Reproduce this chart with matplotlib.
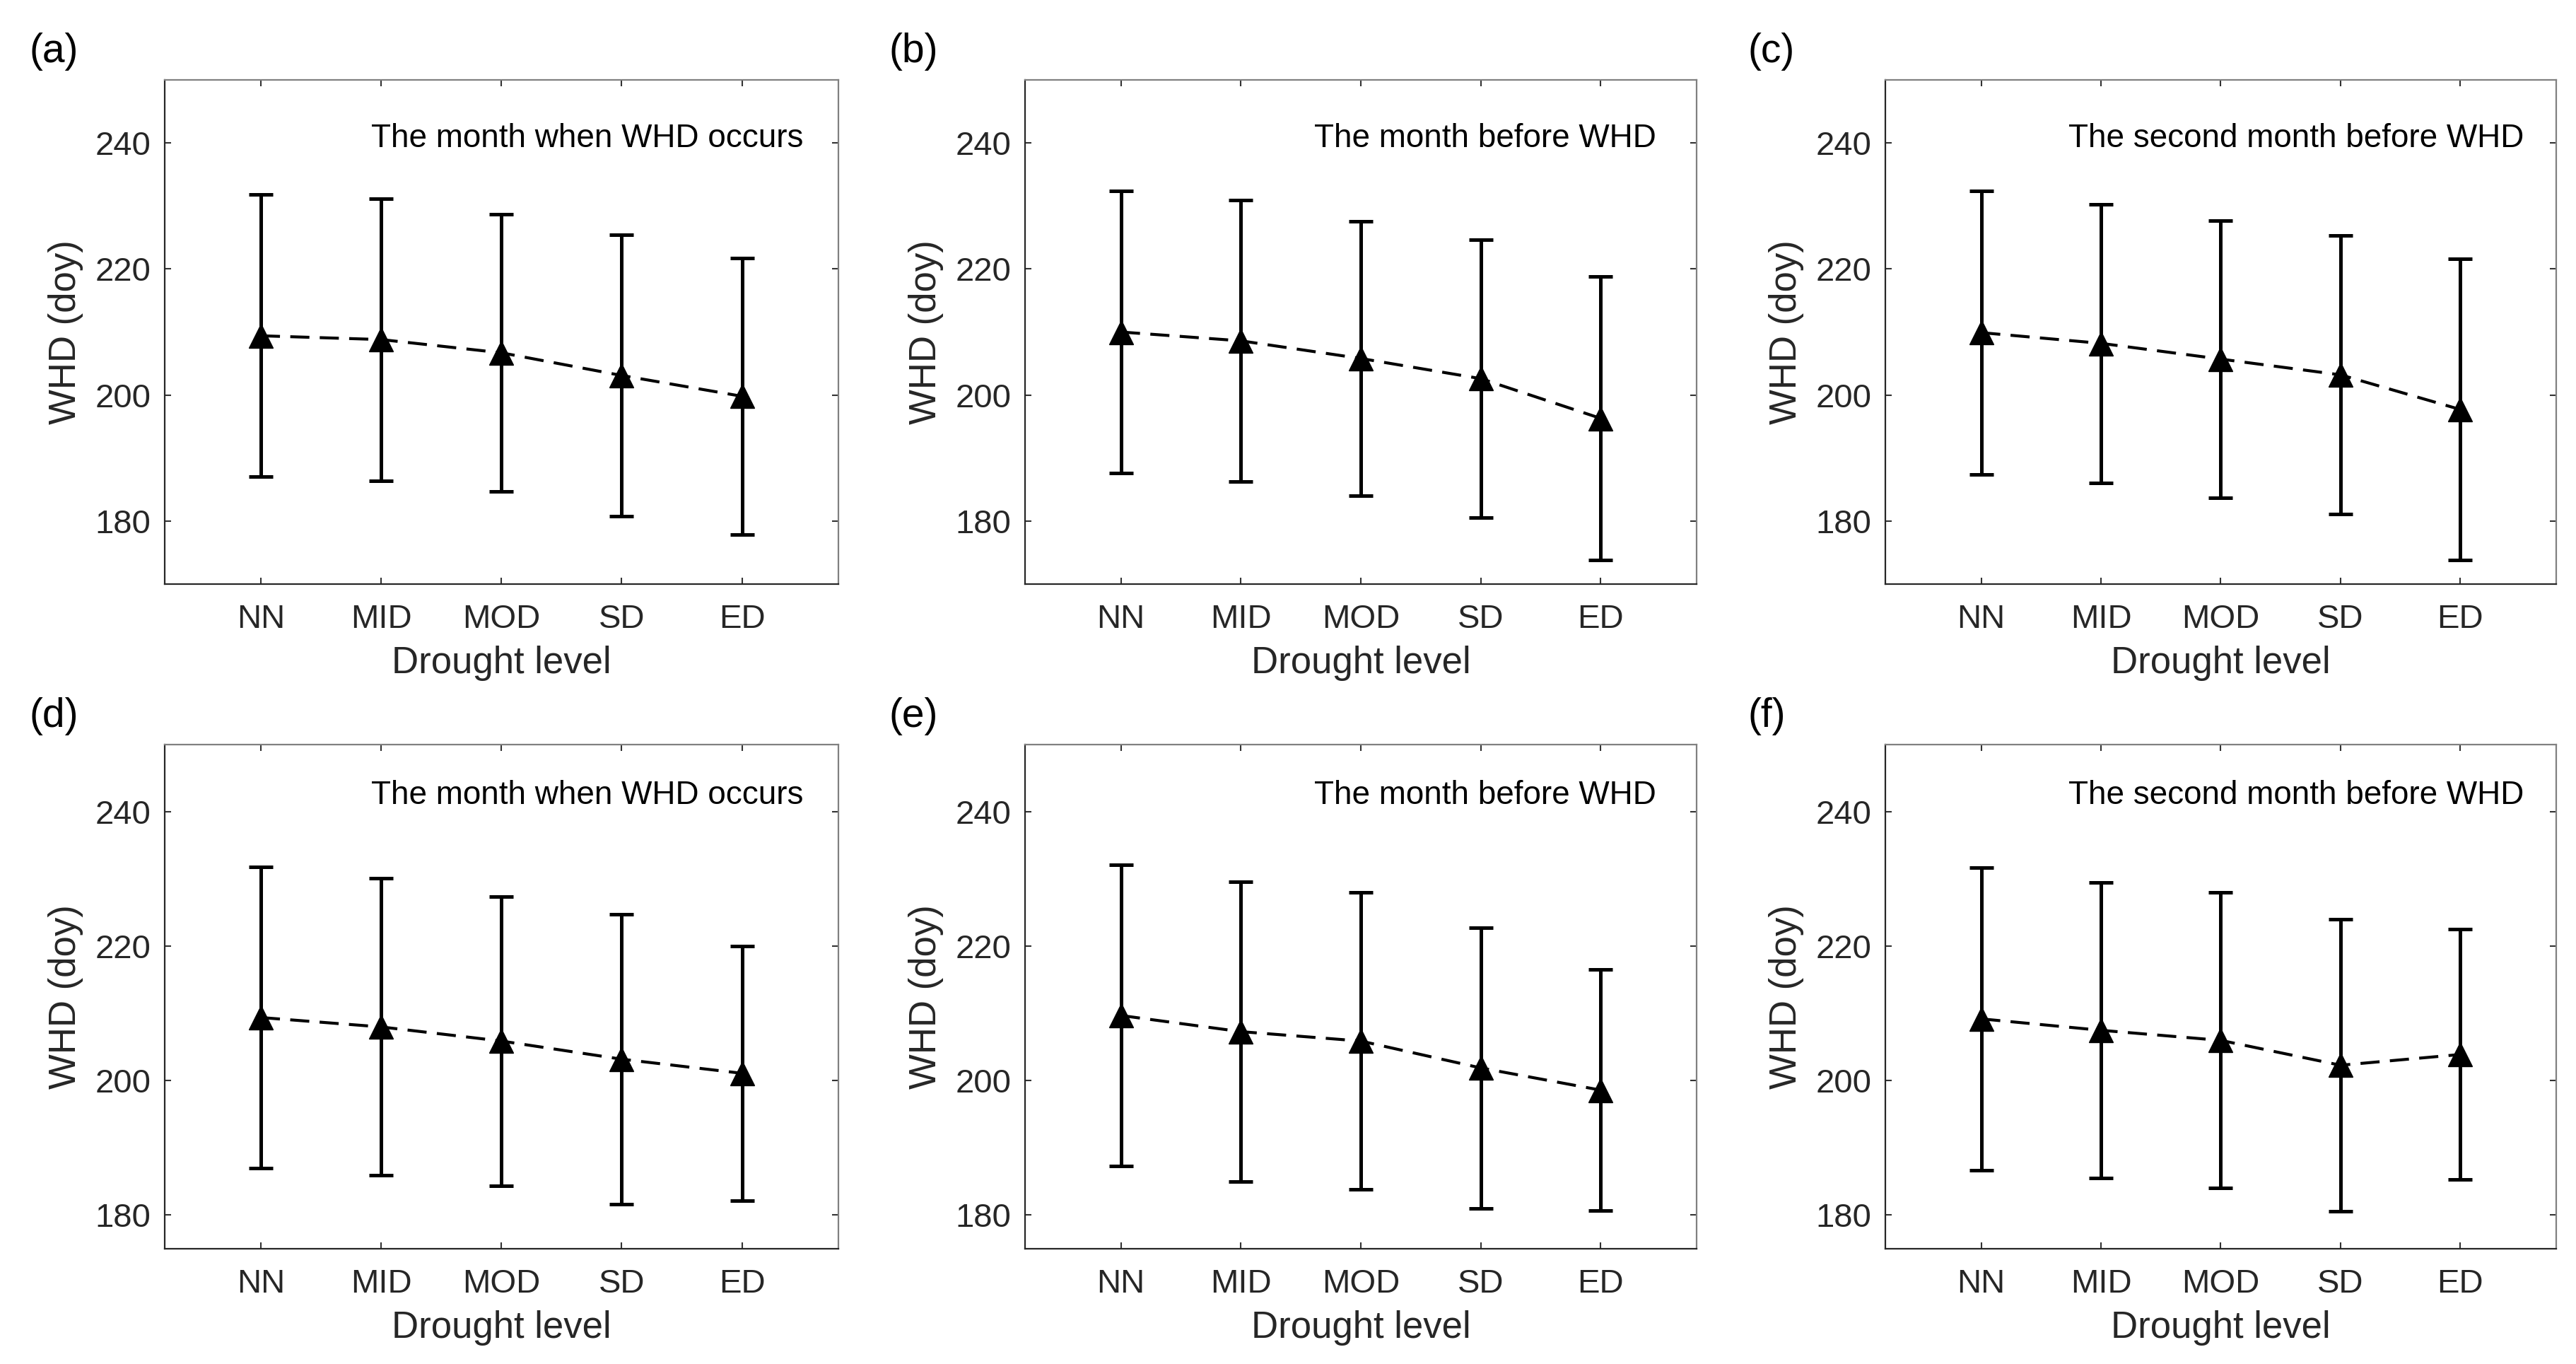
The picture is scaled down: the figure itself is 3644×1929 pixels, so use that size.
import matplotlib
matplotlib.use("Agg")
import matplotlib.pyplot as plt
import numpy as np

plt.rcParams['font.family'] = ['Liberation Sans', 'DejaVu Sans']

categories = ["NN", "MID", "MOD", "SD", "ED"]
panel_labels = ["(a)", "(b)", "(c)", "(d)", "(e)", "(f)"]
panel_titles = ["The month when WHD occurs", "The month before WHD", "The second month before WHD",
                "The month when WHD occurs", "The month before WHD", "The second month before WHD"]

mean_a = [209.4, 208.8, 206.7, 203.1, 199.8]
std_a = [22.4, 22.4, 22.0, 22.3, 21.9]
mean_b = [210.0, 208.6, 205.8, 202.6, 196.3]
std_b = [22.4, 22.3, 21.8, 22.0, 22.5]
mean_c = [209.9, 208.2, 205.7, 203.2, 197.7]
std_c = [22.5, 22.1, 22.0, 22.1, 23.9]
mean_d = [209.4, 208.0, 205.9, 203.2, 201.1]
std_d = [22.4, 22.1, 21.5, 21.6, 18.9]
mean_e = [209.7, 207.3, 205.9, 201.9, 198.6]
std_e = [22.4, 22.3, 22.1, 20.9, 17.9]
mean_f = [209.2, 207.5, 206.0, 202.3, 203.9]
std_f = [22.5, 22.0, 22.0, 21.7, 18.6]

means = [mean_a, mean_b, mean_c, mean_d, mean_e, mean_f]
stds = [std_a, std_b, std_c, std_d, std_e, std_f]

ylims = [(170, 250)] * 3 + [(175, 250)] * 3
yticks = [180, 200, 220, 240]
xlabel = "Drought level"
ylabel = "WHD (doy)"

fig = plt.figure(figsize=(36.44, 19.29), dpi=100)

lefts = [0.0639, 0.3979, 0.7319]
widths = [0.2615, 0.2607, 0.2604]
bottoms = [0.5718, 0.0845]
height = 0.3696
label_x = [0.0113, 0.3452, 0.6786]
label_y = [0.962, 0.475]
title_x = [0.948, 0.940, 0.952]
title_y = [0.867, 0.882]

TXT = '#262626'
x = np.arange(1, len(categories) + 1)
for i in range(6):
    r, c = divmod(i, 3)
    ax = fig.add_axes([lefts[c], bottoms[r], widths[c], height])
    ax.plot(x, means[i], linestyle=(0, (6.5, 3.5)), color='black', linewidth=3.0, zorder=2)
    ax.errorbar(x, means[i], yerr=stds[i], fmt='none', ecolor='black', elinewidth=3.6,
                capsize=12.5, capthick=3.6, zorder=3)
    ax.plot(x, means[i], linestyle='none', marker='^', markersize=25, color='black', zorder=4)
    ax.set_xlim(0.2, 5.8)
    ax.set_ylim(*ylims[i])
    ax.set_xticks(x)
    ax.set_xticklabels(categories)
    ax.set_yticks(yticks)
    ax.tick_params(direction='in', length=6.7, width=1.5, color='#333333', top=True, right=True,
                   labelsize=34, labelcolor=TXT)
    ax.tick_params(axis='x', pad=20)
    ax.tick_params(axis='y', pad=14)
    for side, s in ax.spines.items():
        s.set_linewidth(1.6)
        s.set_color('#262626' if side in ('left', 'bottom') else '#808080')
    ax.set_xlabel(xlabel, fontsize=38, color=TXT, labelpad=11)
    ax.set_ylabel(ylabel, fontsize=38, color=TXT, labelpad=12)
    ax.text(title_x[c], title_y[r], panel_titles[i], transform=ax.transAxes, ha='right',
            va='baseline', fontsize=33, color='black')
    fig.text(label_x[c], label_y[r], panel_labels[i], fontsize=41, ha='left', va='center', color='black')

fig.savefig("out.png", dpi=100, facecolor='white')
